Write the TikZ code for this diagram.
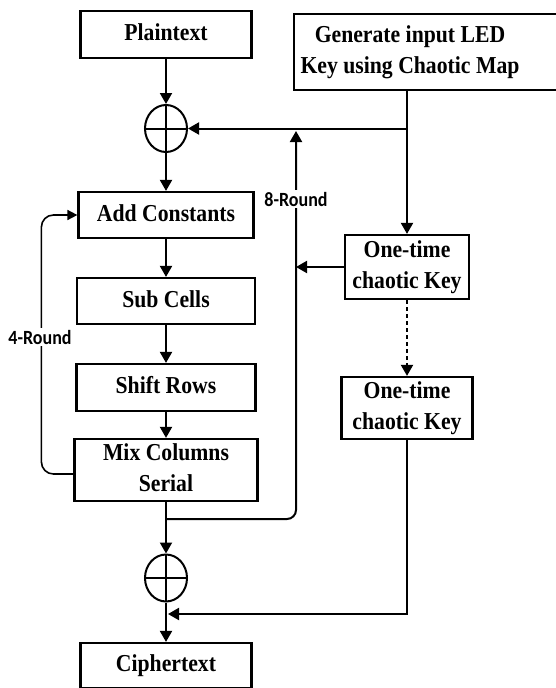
\documentclass[tikz,border=0pt]{standalone}
\usepackage{fontspec}
\setmainfont{Liberation Serif}
\newfontfamily\lblfont{Carlito}
\usetikzlibrary{arrows.meta,shapes.geometric}
\newcommand{\vs}[1]{\scalebox{1}[1.12]{\begin{tabular}{@{}c@{}}#1\end{tabular}}}
\begin{document}
\begin{tikzpicture}[x=1pt,y=-1pt,
  txt/.style={inner sep=0pt,font=\fontsize{21.7}{27.7}\selectfont\bfseries},
  box/.style={txt,draw,line width=2.2pt},
  xorc/.style={draw,ellipse,line width=2pt,minimum width=42pt,minimum height=47pt,inner sep=0pt,
    path picture={\draw[line width=2pt] (path picture bounding box.north) -- (path picture bounding box.south)
      (path picture bounding box.west) -- (path picture bounding box.east);}},
  conn/.style={line width=2pt,-{Triangle[length=11pt,width=12pt]}},
  loopconn/.style={line width=1.6pt,-{Triangle[length=10pt,width=10pt]}},
  lbl/.style={fill=white,inner sep=2pt,font=\lblfont\fontsize{18}{20}\selectfont\bfseries}]
\useasboundingbox (0,0) rectangle (555,688);
\fill[white] (0,0) rectangle (555,688);

\node[box,minimum width=171pt,minimum height=47pt] (plain) at (166,34.5) {\vs{Plaintext}};
\node[draw,line width=2.2pt,minimum width=264pt,minimum height=76pt,inner sep=0pt] (gen) at (426,52) {};
\node[txt] (gentxt) at (410,52) {\vs{Generate input LED\\Key using Chaotic Map}};
\node[xorc] (x1) at (166,128.5) {};
\node[box,minimum width=175pt,minimum height=46pt] (add) at (166,215) {\vs{Add Constants}};
\node[box,minimum width=178pt,minimum height=46pt] (sub) at (166,301) {\vs{Sub Cells}};
\node[box,minimum width=179pt,minimum height=47pt] (shift) at (166,387.5) {\vs{Shift Rows}};
\node[box,minimum width=183pt,minimum height=56pt] (mix) at (166,470) {\vs{Mix Columns\\Serial}};
\node[xorc] (x2) at (166,578) {};
\node[box,minimum width=171pt,minimum height=45pt] (ciph) at (166,665.5) {\vs{Ciphertext}};
\node[box,minimum width=124pt,minimum height=64pt] (k1) at (407,267) {\vs{One-time\\chaotic Key}};
\node[box,minimum width=131pt,minimum height=62pt] (k2) at (407,408) {\vs{One-time\\chaotic Key}};

\coordinate (r8top) at (296,131);
\coordinate (j1) at (166,519);
\coordinate (m2) at (168,614);

\draw[conn] (plain) -- (x1);
\draw[conn] (x1) -- (add);
\draw[conn] (add) -- (sub);
\draw[conn] (sub) -- (shift);
\draw[conn] (shift) -- (mix);
\draw[conn] (mix) -- (x2);
\draw[conn] (x2) -- (ciph);

\draw[conn] (k1.north |- gen.south) -- (k1.north);
\draw[conn] (k1.north |- x1.east) -- (x1.east);
\draw[conn,rounded corners=9pt] (j1) -| (r8top);
\draw[conn] (k1.west) -- (k1.west -| r8top);
\draw[conn,dash pattern=on 4pt off 3pt] (k1.south) -- (k2.north);
\draw[conn] (k2.south) |- (m2);
\draw[loopconn,rounded corners=12pt] (mix.west) ++(0,4) -- ++(-32,0) |- (add.west);

\node[lbl] (r8) at (296,199) {\scalebox{1}[1.12]{8-Round}};
\node[lbl] (r4) at (40,337) {\scalebox{1}[1.12]{4-Round}};
\end{tikzpicture}
\end{document}
